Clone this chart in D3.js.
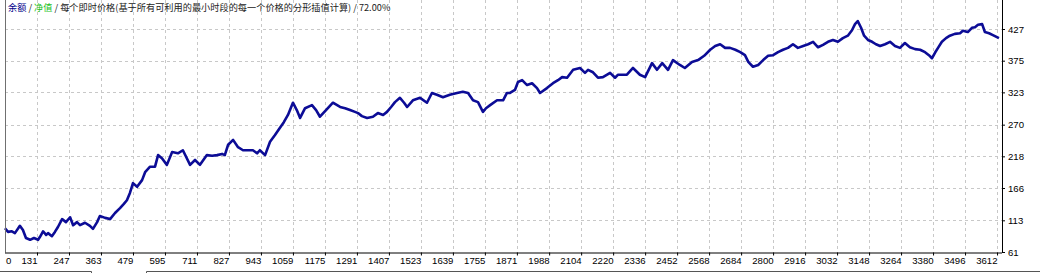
<!DOCTYPE html>
<html><head><meta charset="utf-8">
<script src="https://cdn.jsdelivr.net/npm/d3@7"></script>
<style>
html,body{margin:0;padding:0;background:#fff;overflow:hidden}
svg{display:block}
</style></head><body>
<svg id="c" width="1040" height="273"></svg>
<script>
// ---- data ----
const trades = [15,26,40,51,69,80,91,106,120,135,142,153,164,171,185,196,207,222,236,251,262,276,287,305,323,334,349,359,378,396,414,432,446,457,468,479,494,512,523,541,559,570,584,602,621,642,660,686,704,722,747,766,784,802,812,824,842,860,878,896,914,929,939,958,976,994,1012,1026,1041,1059,1073,1085,1103,1128,1143,1157,1179,1204,1230,1248,1266,1284,1295,1309,1328,1349,1367,1386,1400,1415,1429,1447,1462,1473,1494,1520,1545,1563,1581,1603,1628,1654,1675,1694,1712,1730,1748,1759,1774,1799,1821,1835,1846,1864,1875,1890,1908,1926,1944,1955,1980,2002,2020,2035,2053,2075,2100,2118,2129,2147,2165,2183,2209,2227,2238,2270,2292,2317,2336,2361,2379,2398,2419,2437,2462,2480,2506,2528,2550,2572,2590,2608,2626,2644,2663,2681,2698,2710,2727,2746,2764,2782,2800,2818,2836,2854,2872,2890,2909,2927,2945,2963,2981,2999,3017,3035,3053,3071,3086,3097,3107,3119,3130,3144,3159,3173,3188,3206,3224,3242,3260,3278,3296,3315,3333,3351,3365,3376,3387,3398,3412,3427,3441,3459,3478,3488,3506,3521,3532,3543,3558,3568,3583,3597,3619];
const balance = [100,94,95,92,104,97,84,81,84,81,86,95,89,92,87,94,102,115,110,118,105,110,105,109,104,99,110,120,117,115,125,133,140,146,158,174,168,179,192,201,201,220,215,204,225,223,228,204,212,204,220,219,220,222,220,237,245,233,228,228,228,223,228,220,242,253,265,274,286,306,294,281,297,302,294,283,294,306,299,297,294,291,289,284,281,283,289,286,291,299,307,314,306,299,310,314,306,322,319,315,319,322,324,322,310,307,291,297,302,310,310,322,322,327,340,343,335,338,330,322,330,338,343,348,347,360,363,355,360,356,347,348,355,347,352,352,363,352,348,371,360,371,360,376,368,363,373,376,383,393,399,402,396,396,393,389,384,373,365,368,376,383,384,389,393,396,402,396,399,402,406,397,401,406,409,406,412,416,425,435,440,429,416,409,406,402,399,402,406,399,396,404,397,394,393,389,384,379,388,396,406,412,416,419,420,424,422,429,430,434,435,422,420,417,412];
const xTicks = [0,131,247,363,479,595,711,827,943,1059,1175,1291,1407,1523,1639,1755,1871,1988,2104,2220,2336,2452,2568,2684,2800,2916,3032,3148,3264,3380,3496,3612];
const yTicks = [61,113,166,218,270,323,375,427];
const titleParts = [
  {t:"余额", c:"#00008b"},
  {t:" / ", c:"#222"},
  {t:"净值", c:"#1cbf1c"},
  {t:" / 每个即时价格(基于所有可利用的最小时段的每一个价格的分形插值计算) / 72.00%", c:"#222"}
];

// ---- layout ----
const L = 5, R = 1002, T = 0, B = 252.5;
const svg = d3.select("#c");
const x = d3.scaleLinear().domain([15, 3630]).range([L, R]);
const y = d3.scaleLinear().domain([61, 427]).range([252, 29]);
const font = "'Liberation Sans', Arial, sans-serif";

// grid
const g = svg.append("g");
g.selectAll("line.v").data(xTicks.filter(d => x(d) > L + 2)).join("line")
  .attr("x1", d => Math.round(x(d)) + 0.5).attr("x2", d => Math.round(x(d)) + 0.5)
  .attr("y1", T).attr("y2", B)
  .attr("stroke", "#c8c8c8").attr("stroke-dasharray", "3,3");
g.selectAll("line.h").data(yTicks.filter(d => d > 61)).join("line")
  .attr("x1", L).attr("x2", R)
  .attr("y1", d => Math.round(y(d)) + 0.5).attr("y2", d => Math.round(y(d)) + 0.5)
  .attr("stroke", "#c8c8c8").attr("stroke-dasharray", "3,3");

// balance line
svg.append("path")
  .datum(trades.map((t, i) => [t, balance[i]]))
  .attr("fill", "none").attr("stroke", "#0c0c96").attr("stroke-width", 2.6)
  .attr("stroke-linejoin", "round")
  .attr("d", d3.line().x(d => x(d[0])).y(d => y(d[1])));

// borders
svg.append("line").attr("x1", L + 0.5).attr("x2", L + 0.5).attr("y1", 0).attr("y2", B)
  .attr("stroke", "#707070");

// x axis
const xa = svg.append("g").attr("transform", `translate(0,${B})`)
  .call(d3.axisBottom(x).tickValues(xTicks).tickSize(3).tickSizeOuter(0).tickFormat(d3.format("d")));
xa.select(".domain").attr("stroke", "#000").attr("d", `M${L},0.5H${R}`);
xa.selectAll(".tick line").attr("stroke", "#000");
xa.selectAll(".tick text")
  .attr("font-family", font).attr("font-size", 9.6).attr("fill", "#000")
  .attr("text-anchor", d => d === 0 ? "start" : "end")
  .attr("y", 5);
xa.selectAll(".tick").filter(d => d === 0)
  .attr("transform", `translate(${L + 1},0)`).select("line").remove();

// y axis
const ya = svg.append("g").attr("transform", `translate(${R},0)`)
  .call(d3.axisRight(y).tickValues(yTicks).tickSize(3).tickSizeOuter(0));
ya.select(".domain").attr("stroke", "#000").attr("d", `M0.5,0V${B + 0.5}`);
ya.selectAll(".tick line").attr("stroke", "#000");
ya.selectAll(".tick text")
  .attr("font-family", font).attr("font-size", 9.6).attr("fill", "#000")
  .attr("x", 6);

// title
const tt = svg.append("text").attr("x", 8).attr("y", 10.5)
  .attr("font-family", "'Noto Sans CJK SC', sans-serif").attr("font-size", 9.2);
tt.selectAll("tspan").data(titleParts).join("tspan")
  .attr("fill", d => d.c).text(d => d.t);

// window frame pieces below
svg.append("path").attr("d", "M0,271.5H91.5V273").attr("fill", "none").attr("stroke", "#555");
svg.append("path").attr("d", "M146.5,273V271.5H1040").attr("fill", "none").attr("stroke", "#555");
</script>
</body></html>
